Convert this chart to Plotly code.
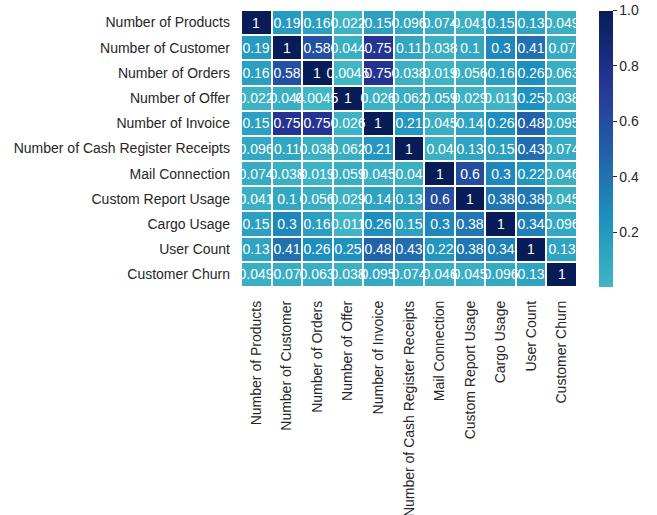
import plotly.graph_objects as go

labels = ["Number of Products", "Number of Customer", "Number of Orders", "Number of Offer",
          "Number of Invoice", "Number of Cash Register Receipts", "Mail Connection",
          "Custom Report Usage", "Cargo Usage", "User Count", "Customer Churn"]

row_products = [1, 0.19, 0.16, 0.022, 0.15, 0.096, 0.074, 0.041, 0.15, 0.13, 0.049]
row_customer = [0.19, 1, 0.58, 0.044, 0.75, 0.11, 0.038, 0.1, 0.3, 0.41, 0.07]
row_orders = [0.16, 0.58, 1, 0.0045, 0.75, 0.038, 0.019, 0.056, 0.16, 0.26, 0.063]
row_offer = [0.022, 0.044, 0.0045, 1, 0.026, 0.062, 0.059, 0.029, 0.011, 0.25, 0.038]
row_invoice = [0.15, 0.75, 0.75, 0.026, 1, 0.21, 0.045, 0.14, 0.26, 0.48, 0.095]
row_cash = [0.096, 0.11, 0.038, 0.062, 0.21, 1, 0.04, 0.13, 0.15, 0.43, 0.074]
row_mail = [0.074, 0.038, 0.019, 0.059, 0.045, 0.04, 1, 0.6, 0.3, 0.22, 0.046]
row_report = [0.041, 0.1, 0.056, 0.029, 0.14, 0.13, 0.6, 1, 0.38, 0.38, 0.045]
row_cargo = [0.15, 0.3, 0.16, 0.011, 0.26, 0.15, 0.3, 0.38, 1, 0.34, 0.096]
row_user = [0.13, 0.41, 0.26, 0.25, 0.48, 0.43, 0.22, 0.38, 0.34, 1, 0.13]
row_churn = [0.049, 0.07, 0.063, 0.038, 0.095, 0.074, 0.046, 0.045, 0.096, 0.13, 1]

z = [row_products, row_customer, row_orders, row_offer, row_invoice, row_cash,
     row_mail, row_report, row_cargo, row_user, row_churn]
text = [[format(v, ".2g") for v in row] for row in z]

# YlGnBu, upper half (seaborn center=0 effect)
ylgnbu = ["#ffffd9", "#edf8b1", "#c7e9b4", "#7fcdbb", "#41b6c4",
          "#1d91c0", "#225ea8", "#253494", "#081d58"]

def hex2rgb(h):
    h = h.lstrip("#")
    return [int(h[i:i + 2], 16) for i in (0, 2, 4)]

def cmap(p):
    p = min(max(p, 0), 1) * 8
    i = min(int(p), 7)
    f = p - i
    a, b = hex2rgb(ylgnbu[i]), hex2rgb(ylgnbu[i + 1])
    c = [round(a[k] + (b[k] - a[k]) * f) for k in range(3)]
    return f"rgb({c[0]},{c[1]},{c[2]})"

zmin = min(min(r) for r in z)
zmax = 1.0
vals = [zmin, 0.125, 0.25, 0.375, 0.5, 0.625, 0.75, 0.875, 1.0]
colorscale = [[(v - zmin) / (zmax - zmin), cmap((v + 1) / 2)] for v in vals]

fig = go.Figure(go.Heatmap(
    z=z, x=labels, y=labels, text=text, texttemplate="%{text}",
    textfont=dict(color="white", size=14, family="Liberation Sans"),
    colorscale=colorscale, zmin=zmin, zmax=zmax, xgap=2, ygap=2,
    colorbar=dict(thickness=14, len=0.995, x=1.065, xanchor="left", xpad=0,
                  y=0.5, yanchor="middle", ypad=0,
                  outlinewidth=0, tickvals=[0.2, 0.4, 0.6, 0.8, 1.0],
                  ticktext=["0.2", "0.4", "0.6", "0.8", "1.0"],
                  ticks="outside", ticklen=4, tickcolor="#262626", tickwidth=1,
                  tickfont=dict(size=14, color="#262626", family="Liberation Sans")),
    hoverinfo="skip",
))

fig.update_layout(
    width=657, height=515,
    margin=dict(l=241, r=80, t=10, b=228, autoexpand=False),
    plot_bgcolor="white", paper_bgcolor="white",
    font=dict(family="Liberation Sans", size=14, color="#262626"),
    xaxis=dict(tickangle=-90, showgrid=False, zeroline=False, ticks="", automargin=False,
               ticklabelstandoff=10, tickfont=dict(size=14, color="#262626")),
    yaxis=dict(autorange="reversed", showgrid=False, zeroline=False, ticks="", automargin=False,
               ticklabelstandoff=10, tickfont=dict(size=14, color="#262626")),
)

fig.write_html("out.html")
